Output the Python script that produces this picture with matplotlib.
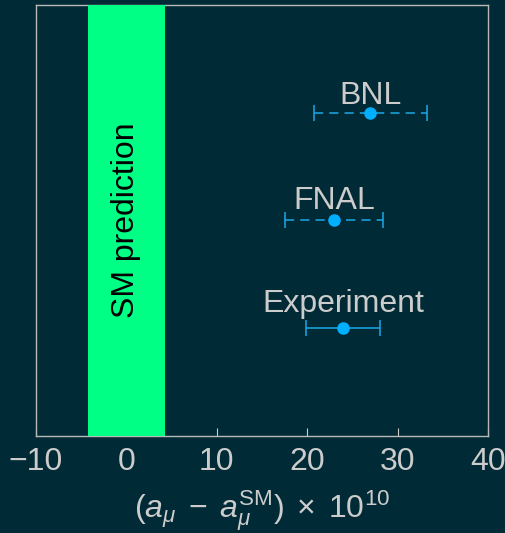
import matplotlib
matplotlib.use("Agg")
import matplotlib.pyplot as plt

plt.rcParams["font.family"] = ["Liberation Sans", "DejaVu Sans"]
plt.rcParams["mathtext.fontset"] = "custom"
plt.rcParams["mathtext.rm"] = "Liberation Sans"
plt.rcParams["mathtext.it"] = "Liberation Sans:italic"
plt.rcParams["mathtext.sf"] = "Liberation Sans"

# measurements of the muon anomaly relative to the SM, in units of 1e-10
names = ["Experiment", "FNAL", "BNL"]
values = [24.0, 23.0, 27.0]
errors = [4.1, 5.4, 6.3]
dashed = [False, True, True]
sm_center = 0.0
sm_error = 4.3

# baseline offset of each name above its point, in points
label_offsets = [12, 8, 6.5]

bg = "#002b36"
fg = "#cccccc"
point_color = "#00b0ff"
bar_color = "#1ca7e6"
band_color = "#00ff85"

fig = plt.figure(figsize=(5.06, 5.33), dpi=100, facecolor=bg)
ax = fig.add_axes([0.0711, 0.182, 0.8933, 0.8088])
ax.set_facecolor(bg)

ax.axvspan(sm_center - sm_error, sm_center + sm_error, color=band_color,
           lw=0, zorder=3)
ax.text(sm_center, 2.0, "SM prediction", rotation=90, ha="center",
        va="center", fontsize=23, color="black", zorder=4)

for i, (name, val, err, dsh) in enumerate(zip(names, values, errors, dashed)):
    y = i + 1
    cont = ax.errorbar(val, y, xerr=err, fmt="o", color=point_color,
                       ecolor=bar_color, markersize=8, elinewidth=1.1,
                       capsize=5.5, capthick=1.1, zorder=5)
    if dsh:
        cont[2][0].set_linestyle((0, (6, 4)))
    ax.annotate(name, (val, y), xytext=(0, label_offsets[i]),
                textcoords="offset points", ha="center", va="baseline",
                fontsize=23, color=fg)

ax.set_xlim(-10, 40)
ax.set_ylim(0, 4)
ax.set_yticks([])
ax.set_xticks([-10, 0, 10, 20, 30, 40])
ax.tick_params(axis="x", direction="in", colors=fg, labelsize=23,
               length=6, width=0.8, pad=8)
for sp in ax.spines.values():
    sp.set_color("#b8b8b8")
    sp.set_linewidth(1.0)
ax.set_xlabel(r"$(a_\mu \;-\; a_\mu^{\mathrm{SM}}) \;\times\; 10^{10}$",
              fontsize=23, color=fg, labelpad=8)

fig.savefig("out.png", dpi=100, facecolor=bg)
